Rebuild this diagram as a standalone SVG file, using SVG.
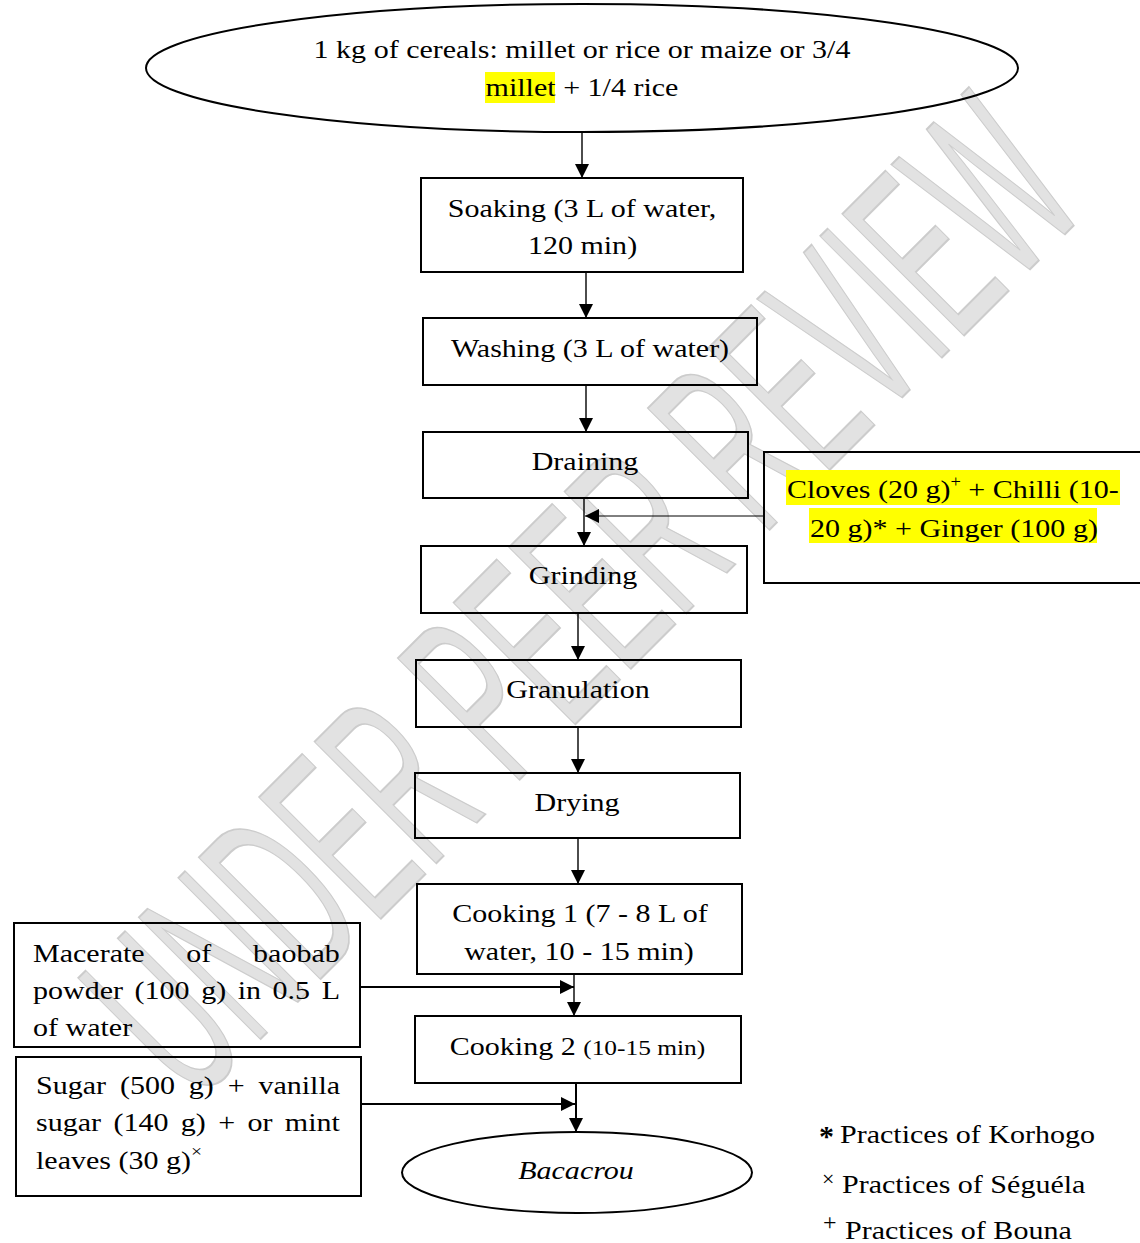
<svg xmlns="http://www.w3.org/2000/svg" width="1140" height="1243" viewBox="0 0 1140 1243">
<style>
.t{font-family:"Liberation Serif","Times New Roman",serif;font-size:26px;fill:#000}
.box{fill:none;stroke:#000;stroke-width:2}
.hl{fill:#ffff00}
.c{fill:none;stroke:#000;stroke-width:1.4}
.c2{fill:none;stroke:#000;stroke-width:2}
.c1{fill:none;stroke:#000;stroke-width:1}
.wm{font-family:"Liberation Sans",Arial,sans-serif;font-size:250px;fill:#e2e2e2;stroke:#cccccc;stroke-width:2}
</style>
<defs>
<marker id="ah" markerUnits="userSpaceOnUse" markerWidth="14" markerHeight="14" refX="14" refY="7" orient="auto">
<path d="M0,0 L14,7 L0,14 z" fill="#000"/>
</marker>
</defs>
<rect width="1140" height="1243" fill="#fff"/>
<g id="watermark">
<text class="wm" transform="translate(580 595) rotate(-45)" x="0" y="88" text-anchor="middle" textLength="1270" lengthAdjust="spacingAndGlyphs">UNDER PEER REVIEW</text>
</g>
<g id="connectors">
<path class="c" d="M582,132 V178" marker-end="url(#ah)"/>
<path class="c" d="M586,272 V318" marker-end="url(#ah)"/>
<path class="c" d="M586,385 V432" marker-end="url(#ah)"/>
<path class="c" d="M584,498 V546" marker-end="url(#ah)"/>
<path class="c1" d="M764,516 H585" marker-end="url(#ah)"/>
<path class="c" d="M578,613 V660" marker-end="url(#ah)"/>
<path class="c" d="M578,727 V773" marker-end="url(#ah)"/>
<path class="c" d="M578,838 V884" marker-end="url(#ah)"/>
<path class="c" d="M574,974 V1016" marker-end="url(#ah)"/>
<path class="c2" d="M360,987 H574" marker-end="url(#ah)"/>
<path class="c2" d="M576,1083 V1132" marker-end="url(#ah)"/>
<path class="c2" d="M361,1104 H575" marker-end="url(#ah)"/>
</g>
<g id="start">
<ellipse cx="582" cy="68" rx="436" ry="64" class="box"/>
<rect class="hl" x="485" y="72" width="70" height="31"/>
<text class="t" text-anchor="middle" transform="translate(582 58) scale(1.155 1)">1 kg of cereals: millet or rice or maize or 3/4</text>
<text class="t" text-anchor="middle" transform="translate(582 96) scale(1.155 1)">millet + 1/4 rice</text>
</g>
<g id="soaking">
<rect class="box" x="421" y="178" width="322" height="94"/>
<text class="t" text-anchor="middle" transform="translate(582 217) scale(1.155 1)">Soaking (3 L of water,</text>
<text class="t" text-anchor="middle" transform="translate(582.5 254) scale(1.155 1)">120 min)</text>
</g>
<g id="washing">
<rect class="box" x="423" y="318" width="334" height="67"/>
<text class="t" text-anchor="middle" transform="translate(590 357) scale(1.155 1)">Washing (3 L of water)</text>
</g>
<g id="draining">
<rect class="box" x="423" y="432" width="325" height="66"/>
<text class="t" text-anchor="middle" transform="translate(585 470) scale(1.155 1)">Draining</text>
</g>
<g id="spices">
<rect class="box" x="764" y="452" width="390" height="131"/>
<rect class="hl" x="786" y="470" width="334" height="35"/>
<rect class="hl" x="809" y="508" width="288" height="35"/>
<text class="t" transform="translate(787 498) scale(1.155 1)">Cloves (20 g)<tspan style="font-size:16px" dy="-11">+</tspan><tspan dy="11"> + Chilli (10-</tspan></text>
<text class="t" transform="translate(810 537) scale(1.155 1)">20 g)* + Ginger (100 g)</text>
</g>
<g id="grinding">
<rect class="box" x="421" y="546" width="326" height="67"/>
<text class="t" text-anchor="middle" transform="translate(583 584) scale(1.155 1)">Grinding</text>
</g>
<g id="granulation">
<rect class="box" x="416" y="660" width="325" height="67"/>
<text class="t" text-anchor="middle" transform="translate(578 698) scale(1.155 1)">Granulation</text>
</g>
<g id="drying">
<rect class="box" x="415" y="773" width="325" height="65"/>
<text class="t" text-anchor="middle" transform="translate(577 811) scale(1.155 1)">Drying</text>
</g>
<g id="cooking1">
<rect class="box" x="417" y="884" width="325" height="90"/>
<text class="t" text-anchor="middle" transform="translate(580 922) scale(1.155 1)">Cooking 1 (7 - 8 L of</text>
<text class="t" text-anchor="middle" transform="translate(579 960) scale(1.155 1)">water, 10 - 15 min)</text>
</g>
<g id="macerate">
<rect class="box" x="14" y="923" width="346" height="124"/>
<text class="t" word-spacing="29.6" transform="translate(33 962) scale(1.155 1)">Macerate of baobab</text>
<text class="t" word-spacing="3.5" transform="translate(33 999) scale(1.155 1)">powder (100 g) in 0.5 L</text>
<text class="t" transform="translate(33 1036) scale(1.155 1)">of water</text>
</g>
<g id="cooking2">
<rect class="box" x="415" y="1016" width="326" height="67"/>
<text class="t" text-anchor="middle" transform="translate(577.5 1055) scale(1.155 1)">Cooking 2 <tspan style="font-size:22px">(10-15 min)</tspan></text>
</g>
<g id="sugar">
<rect class="box" x="16" y="1057" width="345" height="139"/>
<text class="t" word-spacing="5.5" transform="translate(36 1094) scale(1.155 1)">Sugar (500 g) + vanilla</text>
<text class="t" word-spacing="4.2" transform="translate(36 1131) scale(1.155 1)">sugar (140 g) + or mint</text>
<text class="t" transform="translate(36 1169) scale(1.155 1)">leaves (30 g)<tspan style="font-size:17px" dy="-12">×</tspan></text>
</g>
<g id="end">
<ellipse class="box" cx="577" cy="1172.5" rx="175" ry="40.5"/>
<text class="t" font-style="italic" text-anchor="middle" transform="translate(576 1179) scale(1.155 1)">Bacacrou</text>
</g>
<g id="legend">
<text class="t" style="font-size:30px;font-weight:bold" transform="translate(819 1146)">*</text>
<text class="t" transform="translate(840 1143) scale(1.155 1)">Practices of Korhogo</text>
<text class="t" style="font-size:22px" transform="translate(822 1186)">×</text>
<text class="t" transform="translate(842 1193) scale(1.155 1)">Practices of Séguéla</text>
<text class="t" style="font-size:24px" transform="translate(823 1230)">+</text>
<text class="t" transform="translate(845 1239) scale(1.155 1)">Practices of Bouna</text>
</g>
</svg>
